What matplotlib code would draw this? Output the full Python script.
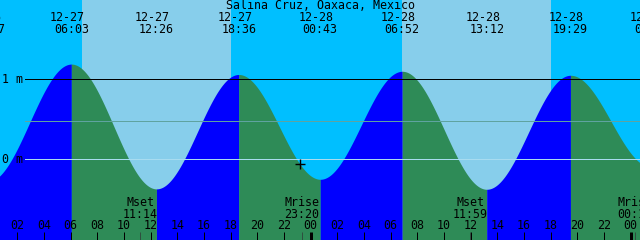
import numpy as np
import matplotlib
matplotlib.use('Agg')
import matplotlib.pyplot as plt
from matplotlib.transforms import offset_copy

# tide extremes (date, clock time, height in m)
tide_dates = ['12-26', '12-27', '12-27', '12-27', '12-28', '12-28', '12-28', '12-28', '12-29']
tide_clock = ['23:47', '06:03', '12:26', '18:36', '00:43', '06:52', '13:12', '19:29', '01:34']
tide_height = [-0.28, 1.19, -0.37, 1.06, -0.25, 1.10, -0.375, 1.05, -0.10]

# sunrise / sunset
sun_rise = ['12-27 06:50', '12-28 06:50']
sun_set = ['12-27 18:02', '12-28 18:02']

# moon events
moon_names = ['Mset', 'Mrise', 'Mset', 'Mrise']
moon_times = ['12-27 11:14', '12-27 23:20', '12-28 11:59', '12-29 00:18']

now_time = '12-27 23:12'
now_level = -0.06

title = 'Salina Cruz, Oaxaca, Mexico'
mean_level = 0.48
t_start, t_end = 0.7, 48.7      # hours from 12-27 00:00
y_lo, y_hi = -1.009, 1.991      # metres

def hours(d, c):
    day = int(d.split('-')[1]) - 27
    hh, mm = c.split(':')
    return day * 24 + int(hh) + int(mm) / 60.0

def hours2(s):
    d, c = s.split()
    return hours(d, c)

ev_t = np.array([hours(d, c) for d, c in zip(tide_dates, tide_clock)])
ev_h = np.array(tide_height)

W, H = 640, 240
fig = plt.figure(figsize=(6.4, 2.4), dpi=100)
ax = fig.add_axes([0, 0, 1, 1])
ax.set_xlim(t_start, t_end)
ax.set_ylim(y_lo, y_hi)
ax.set_facecolor('#00BFFF')
ax.axis('off')
fig.patch.set_facecolor('#00BFFF')

for r, s in zip(sun_rise, sun_set):
    ax.axvspan(hours2(r), hours2(s), color='#87CEEB', lw=0, zorder=0)

# curve between extremes, filled by flood / ebb
for i in range(len(ev_t) - 1):
    t0, t1 = ev_t[i], ev_t[i + 1]
    h0, h1 = ev_h[i], ev_h[i + 1]
    tt = np.linspace(t0, t1, 200)
    f = (tt - t0) / (t1 - t0)
    hh = h0 + (h1 - h0) * (1 - np.cos(np.pi * f)) / 2
    col = '#0000FF' if h1 > h0 else '#2E8B57'
    ax.fill_between(tt, y_lo, hh, color=col, lw=0, zorder=1)

px = 0.72
ax.axhline(1.0, xmin=25 / W, color='black', lw=px, zorder=2)
ax.axhline(mean_level, xmin=25 / W, color='#5fa3a0', lw=px, zorder=2)
ax.axhline(0.0, xmin=25 / W, color='#a8dcf0', lw=px, zorder=2)

font = dict(family='DejaVu Sans Mono', size=8.4, color='black')
xt = ax.get_xaxis_transform()

def yfrac(py):
    return 1 - py / H

ax.text(0.5, yfrac(9), title, transform=ax.transAxes, ha='center', va='baseline', **font)
date_tr = offset_copy(xt, fig=fig, x=-4, y=0, units='dots')
for d, c, t in zip(tide_dates, tide_clock, ev_t):
    ax.text(t, yfrac(20.7), d, transform=date_tr, ha='center', va='baseline', **font)
    ax.text(t, yfrac(33.3), c, transform=xt, ha='center', va='baseline', **font)

ax.text(2 / W, yfrac(83), '1 m', transform=ax.transAxes, ha='left', va='baseline', **font)
ax.text(2 / W, yfrac(163), '0 m', transform=ax.transAxes, ha='left', va='baseline', **font)

# hour ticks
for hr in range(2, 49, 2):
    lab = '%02d' % (hr % 24)
    lw = 3 * px if hr % 24 == 0 else px
    ax.vlines(hr, 0, 8 / H, transform=xt, color='black', lw=lw, zorder=3)
    ax.text(hr, yfrac(229.3), lab, transform=xt, ha='center', va='baseline', zorder=4, **font)

for name, s in zip(moon_names, moon_times):
    t = hours2(s)
    ax.vlines(t, 0, 8 / H, transform=xt, color='#2f4f3f', lw=px, zorder=3)
    ax.text(t, yfrac(206), name, transform=xt, ha='center', va='baseline', zorder=4, **font)
    ax.text(t, yfrac(218.3), s.split()[1], transform=xt, ha='center', va='baseline', zorder=4, **font)

ax.plot([hours2(now_time)], [now_level], marker='+', color='black', ms=7, mew=1.0, zorder=5)

fig.savefig('out.png', dpi=100, facecolor=fig.get_facecolor())
